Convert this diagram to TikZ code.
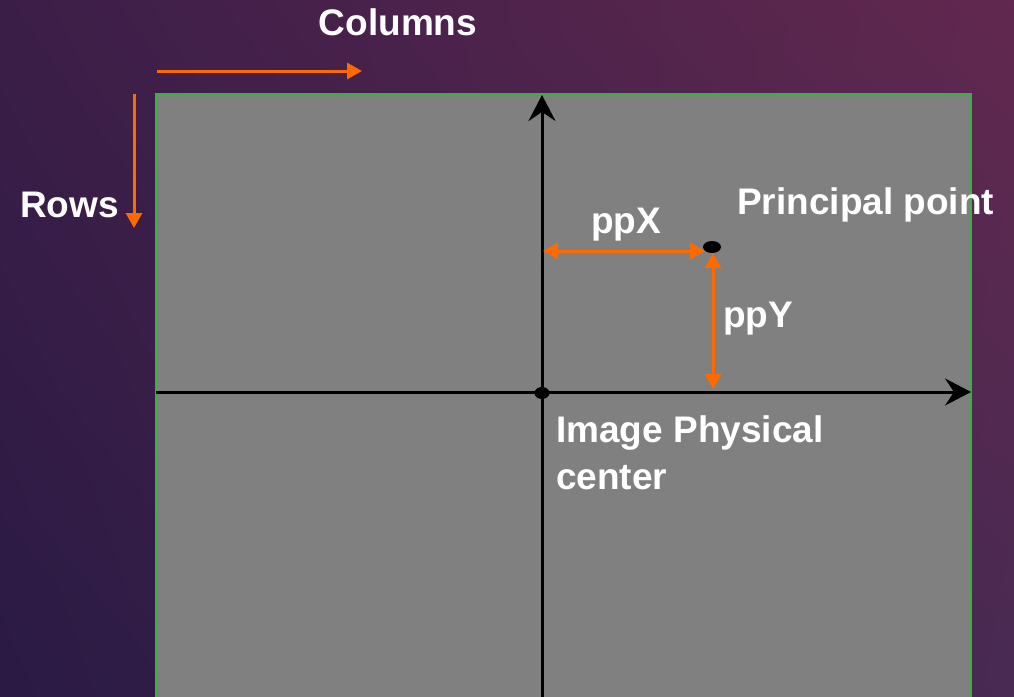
\documentclass[tikz,border=0pt]{standalone}
\usepackage{fontspec}
\setmainfont{Liberation Sans}
\usetikzlibrary{arrows.meta,shapes.geometric,shadings}
\definecolor{bgTL}{HTML}{3B1E48}
\definecolor{bgTR}{HTML}{62284F}
\definecolor{bgBL}{HTML}{2A1A44}
\definecolor{bgBR}{HTML}{482A52}
\definecolor{imggray}{HTML}{808080}
\definecolor{edgegreen}{HTML}{3CAE46}
\definecolor{orangeA}{HTML}{FF6A00}
\tikzset{
  lbl/.style={text=white,font=\fontsize{37}{47}\selectfont\bfseries,inner sep=0pt},
  orarrow/.style={draw=orangeA,line width=3pt,-{Triangle[length=15pt,width=16pt]}},
  ordouble/.style={draw=orangeA,line width=3pt,{Triangle[length=15pt,width=16pt]}-{Triangle[length=15pt,width=16pt]}},
  axisarrow/.style={draw=black,line width=3pt,-{Stealth[length=26pt,width=27pt,inset=9pt]}},
  dotnode/.style={ellipse,fill=black,inner sep=0pt}
}
\begin{document}
\begin{tikzpicture}[x=1pt,y=-1pt]
\useasboundingbox (0,0) rectangle (1014,696);
\clip (0,0) rectangle (1014,696);
\shade[upper left=bgTL,upper right=bgTR,lower left=bgBL,lower right=bgBR] (0,0) rectangle (1014,696);
% image rectangle
\draw[fill=imggray,draw=edgegreen,line width=2pt] (156,94) rectangle (971,710);
% orange direction arrows
\coordinate (colS) at (157,71);
\coordinate (colE) at (362,71);
\coordinate (rowS) at (134,94);
\coordinate (rowE) at (134,228);
\draw[orarrow] (colS) -- (colE);
\draw[orarrow] (rowS) -- (rowE);
% axes
\coordinate (vB) at (542,700);
\coordinate (vT) at (542,95);
\coordinate (hL) at (156,392);
\coordinate (hR) at (971,392);
\draw[axisarrow] (vB) -- (vT);
\draw[axisarrow] (hL) -- (hR);
% dots
\node[dotnode,minimum width=15pt,minimum height=12pt] (center) at (542,393) {};
\node[dotnode,minimum width=18pt,minimum height=12pt] (pp) at (712,247) {};
% offsets
\coordinate (pxS) at (543,251);
\coordinate (pxE) at (705,251);
\coordinate (pyS) at (713,253);
\coordinate (pyE) at (713,389);
\draw[ordouble] (pxS) -- (pxE);
\draw[ordouble] (pyS) -- (pyE);
% labels
\node[lbl,anchor=base] (columns) at (398,35) {Columns};
\node[lbl,anchor=base west] (rows) at (20,217) {Rows};
\node[lbl,anchor=base west] (pplabel) at (737,214) {Principal point};
\node[lbl,anchor=base] (ppx) at (626,233) {ppX};
\node[lbl,anchor=base west] (ppy) at (723,327) {ppY};
\node[lbl,anchor=north west,align=left] (centerlabel) at (556,415) {Image Physical\\center};
\end{tikzpicture}
\end{document}
